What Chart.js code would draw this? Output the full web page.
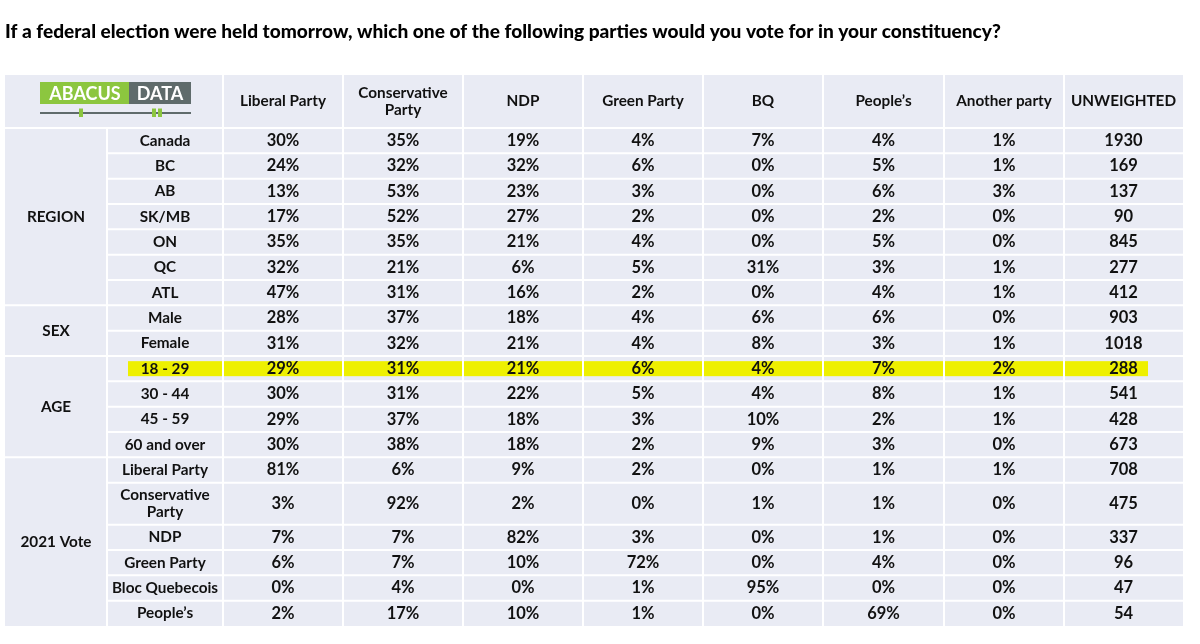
<!DOCTYPE html>
<html>
<head>
<meta charset="utf-8">
<script src="https://cdn.jsdelivr.net/npm/chart.js@4.4.0/dist/chart.umd.min.js"></script>
<style>
  body { margin: 0; background: #fff; }
  #wrap { width: 1200px; height: 644px; }
</style>
</head>
<body>
<div id="wrap"><canvas id="pollTable"></canvas></div>
<script>
const titleText = 'If a federal election were held tomorrow, which one of the following parties would you vote for in your constituency?';

const columns = ['Liberal Party', 'Conservative\nParty', 'NDP', 'Green Party', 'BQ', 'People\u2019s', 'Another party', 'UNWEIGHTED'];

const groupNames = ['REGION', 'SEX', 'AGE', '2021 Vote'];
const groupSizes = [7, 2, 4, 6];

const rowLabels = ['Canada', 'BC', 'AB', 'SK/MB', 'ON', 'QC', 'ATL',
  'Male', 'Female',
  '18 - 29', '30 - 44', '45 - 59', '60 and over',
  'Liberal Party', 'Conservative\nParty', 'NDP', 'Green Party', 'Bloc Quebecois', 'People\u2019s'];

const liberal      = [30, 24, 13, 17, 35, 32, 47, 28, 31, 29, 30, 29, 30, 81, 3, 7, 6, 0, 2];
const conservative = [35, 32, 53, 52, 35, 21, 31, 37, 32, 31, 31, 37, 38, 6, 92, 7, 7, 4, 17];
const ndp          = [19, 32, 23, 27, 21, 6, 16, 18, 21, 21, 22, 18, 18, 9, 2, 82, 10, 0, 10];
const green        = [4, 6, 3, 2, 4, 5, 2, 4, 4, 6, 5, 3, 2, 2, 0, 3, 72, 1, 1];
const bq           = [7, 0, 0, 0, 0, 31, 0, 6, 8, 4, 4, 10, 9, 0, 1, 0, 0, 95, 0];
const peoples      = [4, 5, 6, 2, 5, 3, 4, 6, 3, 7, 8, 2, 3, 1, 1, 1, 4, 0, 69];
const another      = [1, 1, 3, 0, 0, 1, 1, 0, 1, 2, 1, 1, 0, 1, 0, 0, 0, 0, 0];
const unweighted   = [1930, 169, 137, 90, 845, 277, 412, 903, 1018, 288, 541, 428, 673, 708, 475, 337, 96, 47, 54];

const highlightRow = '18 - 29';

const series = [liberal, conservative, ndp, green, bq, peoples, another, unweighted];

// layout (table units = px of the original)
const colEdges = [0, 102, 218, 338, 458, 578, 698, 818, 939, 1059, 1178];
const headerH = 53;
const rowH = 25.33;
const tallRowH = 42;
const tableW = colEdges[colEdges.length - 1];

const rowTops = [];
let acc = headerH;
rowLabels.forEach(l => {
  rowTops.push(acc);
  acc += l.includes('\n') ? tallRowH : rowH;
});
const tableH = acc;
const rowBottom = i => i + 1 < rowTops.length ? rowTops[i + 1] : tableH;
const rowMid = i => (rowTops[i] + rowBottom(i)) / 2;
const colMid = c => (colEdges[c + 2] + colEdges[c + 3]) / 2;

const CELL_BG = '#e9ebf4';
const TEXT = '#111111';
const FONT = 'Lato, "Open Sans", sans-serif';
const TITLE_SIZE = 19.1;

const datasets = series.map((vals, c) => ({
  label: columns[c].replace('\n', ' '),
  data: vals.map((v, r) => ({ x: colMid(c), y: rowMid(r), v: c === series.length - 1 ? String(v) : v + '%' })),
  pointRadius: 0,
  pointHoverRadius: 0
}));

function drawLines(ctx, text, cx, cy, lh) {
  const lines = text.split('\n');
  const start = cy - (lines.length - 1) * lh / 2;
  lines.forEach((ln, i) => ctx.fillText(ln, cx, start + i * lh));
}

const tablePlugin = {
  id: 'pollTable',
  beforeDatasetsDraw(chart) {
    const { ctx, scales: { x, y } } = chart;
    const px = v => x.getPixelForValue(v);
    const py = v => y.getPixelForValue(v);
    ctx.save();

    ctx.fillStyle = CELL_BG;
    ctx.fillRect(px(0), py(0), px(tableW) - px(0), py(tableH) - py(0));

    // highlighted row
    const h = rowLabels.indexOf(highlightRow);
    if (h >= 0) {
      const mid = rowMid(h);
      ctx.fillStyle = '#eef000';
      ctx.fillRect(px(123), py(mid - 7.5), px(1143) - px(123), py(mid + 7.5) - py(mid - 7.5));
    }

    ctx.strokeStyle = '#ffffff';
    ctx.lineWidth = 2;
    ctx.beginPath();
    ctx.moveTo(px(colEdges[1]), py(headerH));
    ctx.lineTo(px(colEdges[1]), py(tableH));
    for (let c = 2; c < colEdges.length - 1; c++) {
      ctx.moveTo(px(colEdges[c]), py(0));
      ctx.lineTo(px(colEdges[c]), py(tableH));
    }
    ctx.moveTo(px(0), py(headerH));
    ctx.lineTo(px(tableW), py(headerH));
    const groupStarts = [];
    let g = 0;
    groupSizes.forEach(s => { groupStarts.push(g); g += s; });
    for (let r = 1; r < rowTops.length; r++) {
      const x0 = groupStarts.includes(r) ? 0 : colEdges[1];
      ctx.moveTo(px(x0), py(rowTops[r]));
      ctx.lineTo(px(tableW), py(rowTops[r]));
    }
    ctx.stroke();

    // logo
    ctx.fillStyle = '#8cc63f';
    ctx.fillRect(px(35), py(7), px(124) - px(35), py(29) - py(7));
    ctx.fillStyle = '#5f6b6b';
    ctx.fillRect(px(124), py(7), px(186) - px(124), py(29) - py(7));
    ctx.fillStyle = '#ffffff';
    ctx.font = 'bold 18px ' + FONT;
    ctx.textAlign = 'center';
    ctx.textBaseline = 'middle';
    ctx.fillText('ABACUS', px(80), py(19));
    ctx.fillText('DATA', px(155), py(19));
    ctx.strokeStyle = '#5f6b6b';
    ctx.lineWidth = 2;
    ctx.beginPath();
    ctx.moveTo(px(35), py(38));
    ctx.lineTo(px(186), py(38));
    ctx.stroke();
    ctx.fillStyle = '#8cc63f';
    [[74, 78], [147, 151], [153, 157]].forEach(([a, b]) => {
      ctx.fillRect(px(a), py(33.5), px(b) - px(a), py(42) - py(33.5));
    });

    // headers, group and row labels
    ctx.fillStyle = TEXT;
    ctx.font = 'bold 15.3px ' + FONT;
    columns.forEach((c, i) => drawLines(ctx, c, px(colMid(i)), py(headerH / 2), 17));
    rowLabels.forEach((l, r) => drawLines(ctx, l, px((colEdges[1] + colEdges[2]) / 2), py(rowMid(r)), 17));
    let gs = 0;
    groupNames.forEach((n, i) => {
      const top = rowTops[gs];
      const bottom = rowBottom(gs + groupSizes[i] - 1);
      ctx.fillText(n, px(colEdges[1] / 2), py((top + bottom) / 2));
      gs += groupSizes[i];
    });
    ctx.restore();
  },
  afterDatasetsDraw(chart) {
    const { ctx } = chart;
    ctx.save();
    ctx.fillStyle = TEXT;
    ctx.font = 'bold 16.5px ' + FONT;
    ctx.textAlign = 'center';
    ctx.textBaseline = 'middle';
    chart.data.datasets.forEach((ds, i) => {
      chart.getDatasetMeta(i).data.forEach((pt, j) => {
        ctx.fillText(ds.data[j].v, pt.x, pt.y);
      });
    });
    ctx.restore();
  }
};

new Chart(document.getElementById('pollTable'), {
  type: 'scatter',
  data: { datasets },
  options: {
    responsive: true,
    maintainAspectRatio: false,
    animation: false,
    layout: { padding: { left: 5, right: 17, top: 0, bottom: 18 } },
    scales: {
      x: { type: 'linear', display: false, min: 0, max: tableW },
      y: { type: 'linear', display: false, min: 0, max: tableH, reverse: true }
    },
    plugins: {
      legend: { display: false },
      tooltip: { enabled: false },
      title: {
        display: true,
        text: titleText,
        align: 'start',
        color: '#000',
        font: { family: FONT, size: TITLE_SIZE, weight: '900', lineHeight: 1.2 },
        padding: { top: 20, bottom: 75 - 20 - TITLE_SIZE * 1.2 }
      }
    }
  },
  plugins: [tablePlugin]
});
</script>
</body>
</html>
